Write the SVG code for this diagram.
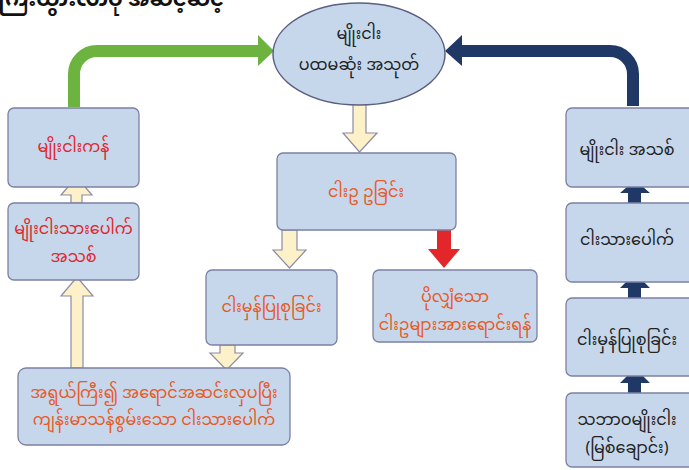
<svg xmlns="http://www.w3.org/2000/svg" width="689" height="470" viewBox="0 0 689 470">
<style>
.box{fill:#c6d7ec;stroke:#7c80a2;stroke-width:1.3}
.ell{fill:#c6d7ec;stroke:#5b5f82;stroke-width:1.5}
.cream{fill:#fdf1c9;stroke:#8d8ca6;stroke-width:1.2;stroke-linejoin:miter}
.navy{fill:#1f3866}
.red{fill:#e2262a}
text{font-family:"Noto Sans Myanmar","Padauk","Myanmar Text","Noto Sans","DejaVu Sans",sans-serif;font-size:16px;text-anchor:middle}
.tdark{fill:#222222}
.tred{fill:#e0262b}
.torange{fill:#e85a26}
.title{font-size:21px;font-weight:bold;fill:#111111;text-anchor:start}
</style>
<rect width="689" height="470" fill="#ffffff"/>
<text class="title" x="-2" y="6">ကြီးထွားလာပုံ အဆင့်ဆင့်</text>

<g id="connectors">
  <path d="M74,107 V74 A23,23 0 0 1 97,51 H259" fill="none" stroke="#6db33f" stroke-width="12"/>
  <polygon points="258,35 274,51 258,66" fill="#6db33f"/>
  <path d="M633,106 V74 A23,23 0 0 0 610,51 H460" fill="none" stroke="#1f3866" stroke-width="12"/>
  <polygon points="462,35 445,51 462,66" class="navy"/>
  <polygon class="cream" points="353,104 366,104 366,133 377,133 359.5,152 343,133 353,133"/>
  <polygon class="cream" points="282,230 297,230 297,250 306,250 289.5,268 273,250 282,250"/>
  <polygon class="red" points="437,230 451,230 451,249 460,249 444,268 428,249 437,249"/>
  <polygon class="cream" points="220,345 235,345 235,353 243,353 226.5,370 210,353 220,353"/>
  <polygon class="cream" points="71,203 82,203 82,195 92,195 76.5,177 61,195 71,195"/>
  <polygon class="cream" points="71,368 83,368 83,296 93,296 77,277 61,296 71,296"/>
  <polygon class="navy" points="628,203 641,203 641,193 650,193 635,180 620,193 628,193"/>
  <polygon class="navy" points="628,298 641,298 641,288 650,288 635,273 620,288 628,288"/>
  <polygon class="navy" points="628,393 641,393 641,383 650,383 635,368 620,383 628,383"/>
</g>

<g id="n-ellipse">
  <ellipse class="ell" cx="359" cy="54" rx="86" ry="51"/>
  <text class="tdark" x="359" y="39">မျိုးငါး</text>
  <text class="tdark" x="359" y="70">ပထမဆုံး အသုတ်</text>
</g>
<g id="n-hatch">
  <rect class="box" x="277" y="153" width="179" height="77" rx="6"/>
  <text class="torange" x="366" y="197">ငါးဥ ဥခြင်း</text>
</g>
<g id="n-nursing">
  <rect class="box" x="206" y="270" width="131" height="75" rx="6"/>
  <text class="torange" x="271.5" y="312">ငါးမှန်ပြုစုခြင်း</text>
</g>
<g id="n-sell">
  <rect class="box" x="373" y="270" width="164" height="72" rx="6"/>
  <text class="torange" x="455" y="302">ပိုလျှံသော</text>
  <text class="torange" x="455" y="330">ငါးဥများအားရောင်းရန်</text>
</g>
<g id="n-fry-select">
  <rect class="box" x="18" y="368" width="272" height="77" rx="8"/>
  <text class="torange" x="154" y="398">အရွယ်ကြီး၍ အရောင်အဆင်းလှပပြီး</text>
  <text class="torange" x="154" y="425">ကျန်းမာသန်စွမ်းသော ငါးသားပေါက်</text>
</g>
<g id="n-broodpond">
  <rect class="box" x="8" y="108" width="131" height="79" rx="6"/>
  <text class="tred" x="73.5" y="152">မျိုးငါးကန်</text>
</g>
<g id="n-newfry">
  <rect class="box" x="8" y="203" width="131" height="77" rx="6"/>
  <text class="tred" x="73.5" y="234">မျိုးငါးသားပေါက်</text>
  <text class="tred" x="73.5" y="262">အသစ်</text>
</g>
<g id="n-newbrood">
  <rect class="box" x="566" y="108" width="130" height="79" rx="6"/>
  <text class="tdark" x="627" y="155">မျိုးငါး အသစ်</text>
</g>
<g id="n-fry">
  <rect class="box" x="566" y="203" width="130" height="79" rx="6"/>
  <text class="tdark" x="627" y="245">ငါးသားပေါက်</text>
</g>
<g id="n-nursing2">
  <rect class="box" x="566" y="298" width="130" height="78" rx="6"/>
  <text class="tdark" x="627" y="345">ငါးမှန်ပြုစုခြင်း</text>
</g>
<g id="n-wild">
  <rect class="box" x="566" y="393" width="130" height="74" rx="6"/>
  <text class="tdark" x="627" y="425">သဘာဝမျိုးငါး</text>
  <text class="tdark" x="627" y="453">(မြစ်ချောင်း)</text>
</g>
</svg>
